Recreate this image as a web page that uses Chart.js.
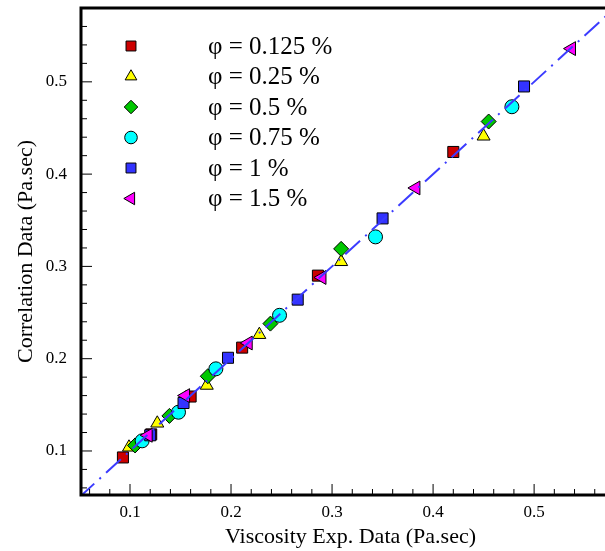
<!DOCTYPE html>
<html>
<head>
<meta charset="utf-8">
<script src="https://cdn.jsdelivr.net/npm/chart.js@4/dist/chart.umd.min.js"></script>
<style>
  html, body { margin: 0; padding: 0; background: #fff; overflow: hidden; }
  canvas { display: block; }
</style>
</head>
<body>
<canvas id="chart" width="620" height="551"></canvas>
<script>
// series: [viscosity exp, correlation]
const seriesNames = ['φ = 0.125 %', 'φ = 0.25 %', 'φ = 0.5 %', 'φ = 0.75 %', 'φ = 1 %', 'φ = 1.5 %'];

const phi0125X = [0.093, 0.121, 0.160, 0.211, 0.286, 0.420];
const phi0125Y = [0.093, 0.118, 0.159, 0.212, 0.290, 0.424];

const phi025X = [0.099, 0.127, 0.176, 0.228, 0.309, 0.450];
const phi025Y = [0.104, 0.130, 0.171, 0.226, 0.305, 0.441];

const phi05X = [0.105, 0.139, 0.177, 0.239, 0.309, 0.455];
const phi05Y = [0.106, 0.138, 0.181, 0.238, 0.319, 0.457];

const phi075X = [0.112, 0.148, 0.185, 0.248, 0.343, 0.478];
const phi075Y = [0.111, 0.142, 0.189, 0.247, 0.332, 0.473];

const phi1X = [0.120, 0.153, 0.197, 0.266, 0.350, 0.490];
const phi1Y = [0.117, 0.152, 0.201, 0.264, 0.352, 0.495];

const phi15X = [0.118, 0.155, 0.217, 0.290, 0.383, 0.537];
const phi15Y = [0.117, 0.160, 0.217, 0.288, 0.385, 0.536];

// y = x reference line
const lineX = [0.05, 0.59];
const lineY = [0.05, 0.59];

const xTicks = [0.1, 0.2, 0.3, 0.4, 0.5];
const yTicks = [0.1, 0.2, 0.3, 0.4, 0.5];

const seriesX = [phi0125X, phi025X, phi05X, phi075X, phi1X, phi15X];
const seriesY = [phi0125Y, phi025Y, phi05Y, phi075Y, phi1Y, phi15Y];
const styles = [
  { color: '#cc0000', pointStyle: 'rect', radius: 7.8, rotation: 0 },
  { color: '#ffff00', pointStyle: 'triangle', radius: 7.5, rotation: 0 },
  { color: '#00c800', pointStyle: 'rectRot', radius: 7.5, rotation: 0 },
  { color: '#00ffff', pointStyle: 'circle', radius: 7, rotation: 0 },
  { color: '#3333ff', pointStyle: 'rect', radius: 7.8, rotation: 0 },
  { color: '#ff00ff', pointStyle: 'triangle', radius: 8, rotation: -90 },
];

const FONT = '"Liberation Serif", "Times New Roman", serif';

const datasets = seriesNames.map((name, i) => ({
  type: 'scatter',
  label: name,
  data: seriesX[i].map((x, j) => ({ x, y: seriesY[i][j] })),
  backgroundColor: styles[i].color,
  borderColor: '#000',
  borderWidth: 1,
  pointStyle: styles[i].pointStyle,
  pointRadius: styles[i].radius,
  pointHoverRadius: styles[i].radius,
  rotation: styles[i].rotation,
  order: seriesNames.length - i,
}));

datasets.push({
  type: 'line',
  label: 'y = x',
  data: lineX.map((x, j) => ({ x, y: lineY[j] })),
  borderColor: '#3b3bff',
  borderWidth: 2,
  borderDash: [20, 7, 2, 7],
  pointRadius: 0,
  fill: false,
  order: -1,
});

function noPad(s) {
  s.paddingTop = 0;
  s.paddingBottom = 0;
  s.paddingLeft = 0;
  s.paddingRight = 0;
}

// frame + inward ticks
const framePlugin = {
  id: 'frame',
  afterDraw(chart) {
    const { ctx, chartArea: a, scales } = chart;
    ctx.save();
    ctx.strokeStyle = '#000';
    ctx.lineWidth = 1;
    ctx.beginPath();
    for (let k = 3; k <= 29; k++) {
      const v = k * 0.02;
      const len = k % 5 === 0 ? 11 : 6;
      const px = scales.x.getPixelForValue(v);
      if (px > a.left + 1 && px < a.right) {
        ctx.moveTo(px, a.bottom);
        ctx.lineTo(px, a.bottom - len);
      }
      const py = scales.y.getPixelForValue(v);
      if (py < a.bottom - 1 && py > a.top) {
        ctx.moveTo(a.left, py);
        ctx.lineTo(a.left + len, py);
      }
    }
    ctx.stroke();
    ctx.lineWidth = 3;
    ctx.strokeRect(a.left, a.top, a.right - a.left, a.bottom - a.top);
    ctx.restore();
  }
};

// legend inside plot
const legendPlugin = {
  id: 'innerLegend',
  afterDraw(chart) {
    const { ctx } = chart;
    ctx.save();
    ctx.font = '25px ' + FONT;
    ctx.textBaseline = 'middle';
    ctx.textAlign = 'left';
    seriesNames.forEach((name, i) => {
      const y = 46 + i * 30.5;
      const s = styles[i];
      ctx.fillStyle = s.color;
      ctx.strokeStyle = '#000';
      ctx.lineWidth = 1;
      Chart.helpers.drawPoint(ctx, {
        pointStyle: s.pointStyle,
        radius: s.radius * 0.9,
        rotation: s.rotation,
        borderWidth: 1,
      }, 131, y);
      ctx.fillStyle = '#000';
      ctx.fillText(name, 208, y + 1);
    });
    ctx.restore();
  }
};

new Chart(document.getElementById('chart'), {
  data: { datasets },
  options: {
    responsive: false,
    animation: false,
    devicePixelRatio: 1,
    layout: { autoPadding: false, padding: { top: 8, left: 0, right: 0, bottom: 0 } },
    plugins: {
      legend: { display: false },
      tooltip: { enabled: false },
    },
    scales: {
      x: {
        type: 'linear',
        min: 0.0515,
        max: 0.585,
        afterFit(s) { s.height = 56; noPad(s); },
        afterBuildTicks(s) { s.ticks = xTicks.map(v => ({ value: v })); },
        grid: { display: false, drawTicks: false },
        border: { display: false },
        ticks: {
          padding: 7,
          color: '#000',
          font: { family: FONT, size: 17 },
          callback: v => String(v),
          maxRotation: 0,
        },
        title: {
          display: true,
          text: 'Viscosity Exp. Data (Pa.sec)',
          color: '#000',
          font: { family: FONT, size: 22 },
          padding: { top: 0, bottom: 1 },
        },
      },
      y: {
        type: 'linear',
        min: 0.0523,
        max: 0.580,
        afterFit(s) { s.width = 81; noPad(s); },
        afterBuildTicks(s) { s.ticks = yTicks.map(v => ({ value: v })); },
        grid: { display: false, drawTicks: false },
        border: { display: false },
        ticks: {
          padding: 14,
          color: '#000',
          font: { family: FONT, size: 17 },
          callback: v => String(v),
        },
        title: {
          display: true,
          text: 'Correlation Data (Pa.sec)',
          color: '#000',
          font: { family: FONT, size: 22 },
          padding: { top: 13, bottom: 0 },
        },
      },
    },
  },
  plugins: [framePlugin, legendPlugin],
});
</script>
</body>
</html>
